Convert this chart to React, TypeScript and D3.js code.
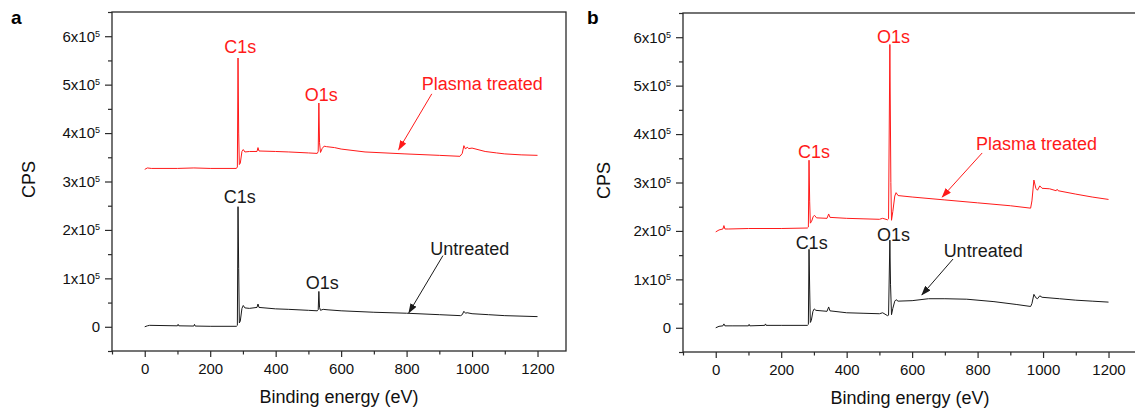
import React, { useEffect, useRef } from "react";
import * as d3 from "d3";

type Pt = [number, number];

// axis ticks
const energyTicks = [0, 200, 400, 600, 800, 1000, 1200];
const energyMinor = [-100, 100, 300, 500, 700, 900, 1100];
const cpsTicks = [0, 100000, 200000, 300000, 400000, 500000, 600000];
const cpsMinor = [-50000, 50000, 150000, 250000, 350000, 450000, 550000, 650000];
const cpsLabels = ["0", "1x10", "2x10", "3x10", "4x10", "5x10", "6x10"];

// panel a spectra [eV, CPS]
const plasmaA: Pt[] = [
  [0, 325000], [8, 328000], [20, 327000], [100, 327000], [150, 328000], [200, 327000],
  [280, 327000], [283, 330000], [285, 555000], [287, 400000], [289, 335000], [292, 338000],
  [297, 362000], [301, 366000], [306, 361000], [320, 362000], [343, 362000], [346, 370000],
  [349, 363000], [400, 362000], [440, 361000], [500, 359000], [527, 358000], [530, 362000],
  [532, 462000], [534, 380000], [537, 360000], [542, 368000], [548, 373000], [555, 372000],
  [580, 370000], [600, 367000], [673, 361000], [795, 357000], [900, 354000], [963, 352000],
  [970, 358000], [975, 374000], [980, 367000], [985, 371000], [990, 368000], [1000, 369000],
  [1040, 362000], [1075, 359000], [1100, 357000], [1150, 355000], [1200, 354000],
];
const untreatedA: Pt[] = [
  [0, 0], [8, 2000], [15, 3000], [100, 2000], [102, 5000], [104, 2000], [150, 1500],
  [152, 5000], [154, 1500], [200, 1000], [280, 1000], [283, 3000], [285, 248000],
  [287, 120000], [289, 8000], [292, 12000], [297, 38000], [301, 44000], [306, 39000],
  [320, 38000], [343, 40000], [346, 47000], [349, 40000], [400, 37000], [440, 36000],
  [500, 34000], [527, 33000], [530, 35000], [532, 73000], [534, 40000], [537, 34000],
  [545, 36000], [560, 35000], [600, 33000], [700, 30000], [800, 28000], [900, 25000],
  [965, 23000], [970, 25000], [975, 32000], [980, 28000], [985, 29000], [1000, 27000],
  [1050, 25000], [1100, 23000], [1200, 21000],
];

// panel b spectra [eV, CPS]
const plasmaB: Pt[] = [
  [0, 198000], [10, 202000], [22, 204000], [25, 211000], [28, 204000], [40, 204000],
  [100, 205000], [200, 205000], [280, 206000], [283, 208000], [285, 346000], [287, 260000],
  [289, 216000], [293, 220000], [298, 230000], [302, 232000], [308, 227000], [340, 226000],
  [345, 235000], [349, 228000], [400, 226000], [450, 225000], [500, 224000], [510, 226000],
  [525, 223000], [528, 225000], [532, 585000], [535, 300000], [537, 222000], [541, 240000],
  [547, 272000], [551, 279000], [557, 273000], [600, 270000], [700, 264000], [800, 258000],
  [900, 252000], [962, 247000], [966, 262000], [972, 305000], [978, 288000], [983, 284000],
  [990, 293000], [997, 288000], [1020, 287000], [1040, 283000], [1043, 286000],
  [1046, 283000], [1100, 276000], [1150, 270000], [1200, 265000],
];
const untreatedB: Pt[] = [
  [0, 0], [10, 3000], [22, 4000], [25, 8000], [28, 4000], [50, 4000], [100, 4000],
  [102, 7000], [104, 4000], [150, 5000], [152, 8000], [154, 5000], [200, 5000], [280, 5000],
  [283, 7000], [285, 162000], [287, 80000], [289, 11000], [292, 15000], [297, 34000],
  [301, 39000], [306, 36000], [340, 34000], [345, 43000], [349, 35000], [400, 31000],
  [450, 30000], [500, 29000], [510, 31000], [525, 25000], [528, 26000], [532, 181000],
  [534, 90000], [537, 27000], [541, 40000], [547, 55000], [551, 58000], [557, 55000],
  [600, 56000], [650, 60000], [700, 60000], [767, 59000], [850, 54000], [920, 48000],
  [962, 44000], [966, 50000], [972, 69000], [978, 62000], [983, 60000], [990, 66000],
  [997, 63000], [1050, 60000], [1100, 57000], [1150, 55000], [1200, 53000],
];

// annotations: text, anchor [eV, CPS], series
const labelsA: [string, number, number, string][] = [
  ["C1s", 292, 566000, "plasma"],
  ["O1s", 539, 467000, "plasma"],
  ["Plasma treated", 1031, 488000, "plasma"],
  ["C1s", 290, 256000, "untreated"],
  ["O1s", 542, 78500, "untreated"],
  ["Untreated", 993, 149000, "untreated"],
];
const labelsB: [string, number, number, string][] = [
  ["C1s", 300, 350500, "plasma"],
  ["O1s", 543, 588000, "plasma"],
  ["Plasma treated", 980, 367000, "plasma"],
  ["C1s", 293, 163000, "untreated"],
  ["O1s", 543, 179000, "untreated"],
  ["Untreated", 817, 146000, "untreated"],
];
// arrows: from [eV, CPS] to [eV, CPS]
const arrowsA: [Pt, Pt, string][] = [
  [[877, 481000], [776, 366000], "plasma"],
  [[911, 147000], [807, 29000], "untreated"],
];
const arrowsB: [Pt, Pt, string][] = [
  [[814, 361000], [692, 270000], "plasma"],
  [[725, 142000], [630, 68000], "untreated"],
];

const colors: Record<string, string> = { plasma: "#ff1a1a", untreated: "#1a1a1a" };
const font = "'Liberation Sans', Arial, sans-serif";

function drawPanel(svg: any, o: any) {
  const x = d3.scaleLinear().domain([-100, 1287]).range([0, o.width]);
  const y = d3.scaleLinear().domain([-50000, 650000]).range([o.height, 0]);
  const g = svg.append("g").attr("transform", `translate(${o.left},${o.top})`);

  // spectra
  const line = d3
    .line<Pt>()
    .x(d => x(d[0]))
    .y(d => y(d[1]));
  g.append("path")
    .attr("d", line(o.plasma))
    .attr("fill", "none")
    .attr("stroke", colors.plasma)
    .attr("stroke-width", 1);
  g.append("path")
    .attr("d", line(o.untreated))
    .attr("fill", "none")
    .attr("stroke", colors.untreated)
    .attr("stroke-width", 1);

  // frame
  g.append("rect")
    .attr("width", o.width)
    .attr("height", o.height)
    .attr("fill", "none")
    .attr("stroke", "#2a2a2a")
    .attr("stroke-width", 1.3);

  // x axis
  const xMajor = g
    .append("g")
    .attr("transform", `translate(0,${o.height})`)
    .call(
      d3.axisBottom(x).tickValues(energyTicks).tickSize(6).tickSizeOuter(0).tickPadding(6)
        .tickFormat(d3.format("d"))
    );
  const xMin = g
    .append("g")
    .attr("transform", `translate(0,${o.height})`)
    .call(d3.axisBottom(x).tickValues(energyMinor).tickSize(3.5).tickSizeOuter(0).tickFormat(() => ""));

  // y axis
  const yMajor = g
    .append("g")
    .call(d3.axisLeft(y).tickValues(cpsTicks).tickSize(7).tickSizeOuter(0).tickPadding(5));
  const yMin = g
    .append("g")
    .call(d3.axisLeft(y).tickValues(cpsMinor).tickSize(4).tickSizeOuter(0).tickFormat(() => ""));

  [xMajor, xMin, yMajor, yMin].forEach(a => {
    a.select(".domain").remove();
    a.selectAll("line").attr("stroke", "#2a2a2a").attr("stroke-width", 1.2);
    a.selectAll("text").attr("font-family", font).attr("font-size", 15).attr("fill", "#111");
  });

  yMajor.selectAll("text").each(function (this: any, d: any, i: number) {
    const t = d3.select(this);
    t.text(null);
    t.append("tspan").text(cpsLabels[i]);
    if (i > 0) t.append("tspan").attr("dy", -5).attr("font-size", 9).text("5");
  });

  // axis titles
  g.append("text")
    .attr("x", o.width / 2)
    .attr("y", o.height + 52)
    .attr("text-anchor", "middle")
    .attr("font-family", font)
    .attr("font-size", 18)
    .attr("fill", "#111")
    .text("Binding energy (eV)");
  g.append("text")
    .attr("transform", `translate(${o.cpsX},${o.height / 2 - 2}) rotate(-90)`)
    .attr("text-anchor", "middle")
    .attr("font-family", font)
    .attr("font-size", 18)
    .attr("fill", "#111")
    .text("CPS");

  // panel letter
  g.append("text")
    .attr("x", o.tagX)
    .attr("y", 24 - o.top)
    .attr("font-family", font)
    .attr("font-size", 19)
    .attr("font-weight", "bold")
    .attr("fill", "#000")
    .text(o.tag);

  // annotations
  o.labels.forEach((l: any) => {
    g.append("text")
      .attr("x", x(l[1]))
      .attr("y", y(l[2]))
      .attr("text-anchor", "middle")
      .attr("font-family", font)
      .attr("font-size", 18)
      .attr("fill", colors[l[3]])
      .text(l[0]);
  });
  o.arrows.forEach((a: any) => {
    g.append("line")
      .attr("x1", x(a[0][0]))
      .attr("y1", y(a[0][1]))
      .attr("x2", x(a[1][0]))
      .attr("y2", y(a[1][1]))
      .attr("stroke", colors[a[2]])
      .attr("stroke-width", 1)
      .attr("marker-end", `url(#arrow-${a[2]})`);
  });
}

export default function App() {
  const ref = useRef<SVGSVGElement>(null);

  useEffect(() => {
    const svg = d3.select(ref.current);
    svg.selectAll("*").remove();

    const defs = svg.append("defs");
    Object.keys(colors).forEach(k => {
      defs
        .append("marker")
        .attr("id", `arrow-${k}`)
        .attr("markerUnits", "userSpaceOnUse")
        .attr("markerWidth", 10)
        .attr("markerHeight", 7)
        .attr("refX", 9)
        .attr("refY", 3.5)
        .attr("orient", "auto")
        .append("path")
        .attr("d", "M0,0 L10,3.5 L0,7 Z")
        .attr("fill", colors[k]);
    });

    drawPanel(svg, {
      left: 112, top: 12, width: 454, height: 339,
      plasma: plasmaA, untreated: untreatedA, labels: labelsA, arrows: arrowsA,
      tag: "a", tagX: 11 - 112, cpsX: 35 - 112,
    });
    drawPanel(svg, {
      left: 683, top: 13, width: 454, height: 339,
      plasma: plasmaB, untreated: untreatedB, labels: labelsB, arrows: arrowsB,
      tag: "b", tagX: 587 - 683, cpsX: 610 - 683,
    });
  }, []);

  return (
    <svg
      ref={ref}
      width={1135}
      height={410}
      style={{ position: "absolute", left: 0, top: 0, background: "#fff" }}
    />
  );
}
